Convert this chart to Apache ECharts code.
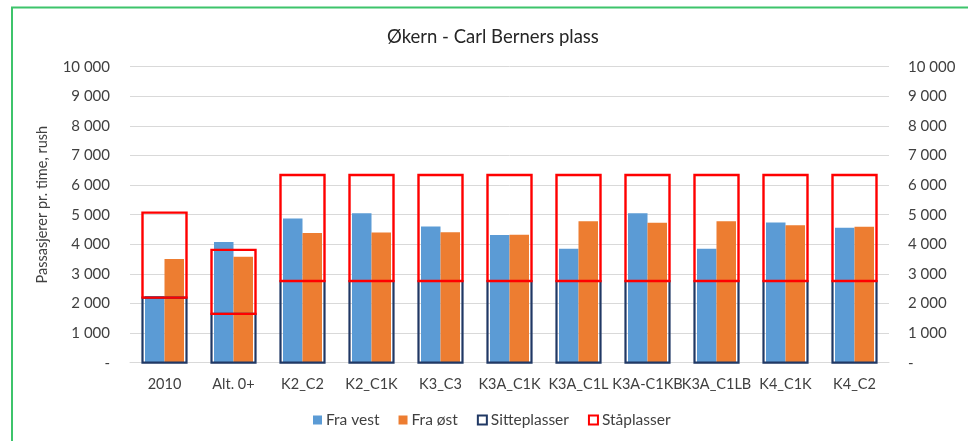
<!DOCTYPE html>
<html>
<head>
<meta charset="utf-8">
<script src="https://cdn.jsdelivr.net/npm/echarts@6/dist/echarts.min.js"></script>
<style>
  html, body { margin: 0; padding: 0; background: #fff; }
  #chart { width: 968px; height: 441px; }
</style>
</head>
<body>
<div id="chart"></div>
<script>
// Scenarios along the x axis
const categories = ['2010', 'Alt. 0+', 'K2_C2', 'K2_C1K', 'K3_C3', 'K3A_C1K', 'K3A_C1L', 'K3A-C1KB', 'K3A_C1LB', 'K4_C1K', 'K4_C2'];
// Passengers per hour in rush, by direction
const fraVest = [2250, 4080, 4870, 5050, 4600, 4310, 3850, 5050, 3850, 4740, 4560];
const fraOst  = [3500, 3580, 4380, 4400, 4410, 4320, 4780, 4730, 4780, 4640, 4590];
// Capacity: seats, and total capacity including standing room
const sitteplasser = [2200, 1650, 2760, 2760, 2760, 2760, 2760, 2760, 2760, 2760, 2760];
const totalKapasitet = [5070, 3810, 6340, 6340, 6340, 6340, 6340, 6340, 6340, 6340, 6340];

const fontFamily = 'Lato, "Open Sans", sans-serif';
const textColor = '#404040';
const BOX_WIDTH = 44;

function fmt(v) {
  if (v === 0) return '-';
  return String(v).replace(/\B(?=(\d{3})+(?!\d))/g, ' ');
}

// Hollow box from a lower to an upper value, centred on a category
function boxRenderer(stroke, lineWidth) {
  return function (params, api) {
    const lo = api.coord([api.value(0), api.value(1)]);
    const hi = api.coord([api.value(0), api.value(2)]);
    return {
      type: 'rect',
      shape: { x: lo[0] - BOX_WIDTH / 2, y: hi[1], width: BOX_WIDTH, height: lo[1] - hi[1] },
      style: { fill: 'none', stroke: stroke, lineWidth: lineWidth }
    };
  };
}

const seatBoxes = categories.map((c, i) => [i, 0, sitteplasser[i]]);
const standingBoxes = categories.map((c, i) => [i, sitteplasser[i], totalKapasitet[i]]);

const chart = echarts.init(document.getElementById('chart'), null, { renderer: 'canvas' });

const yAxisCommon = {
  type: 'value', min: 0, max: 10000, interval: 1000,
  axisLine: { show: false }, axisTick: { show: false },
  axisLabel: { formatter: fmt, color: textColor, fontSize: 15, fontFamily }
};

chart.setOption({
  animation: false,
  backgroundColor: '#fff',
  graphic: [{
    type: 'polyline',
    shape: { points: [[12, 441], [12, 7.5], [968, 7.5]] },
    style: { stroke: '#3dc46b', lineWidth: 2, fill: null }
  }],
  title: {
    text: 'Økern - Carl Berners plass',
    left: 382, top: 23,
    textStyle: { fontFamily, fontSize: 18.5, fontWeight: 'normal', color: '#262626' }
  },
  legend: {
    bottom: 8, left: 308,
    itemWidth: 9, itemHeight: 9, itemGap: 19,
    icon: 'rect',
    textStyle: { fontFamily, fontSize: 15.5, color: textColor, padding: [0, 0, 0, -1] },
    data: [
      { name: 'Fra vest', itemStyle: { color: '#5b9bd5' } },
      { name: 'Fra øst', itemStyle: { color: '#ed7d31' } },
      { name: 'Sitteplasser', itemStyle: { color: '#fff', borderColor: '#203864', borderWidth: 2 } },
      { name: 'Ståplasser', itemStyle: { color: '#fff', borderColor: '#ff0000', borderWidth: 2 } }
    ]
  },
  grid: { left: 130, right: 79, top: 66.7, bottom: 78.3, containLabel: false },
  xAxis: {
    type: 'category', data: categories,
    axisLine: { lineStyle: { color: '#d9d9d9', width: 1 } },
    axisTick: { show: false },
    axisLabel: { color: textColor, fontSize: 14.5, fontFamily, margin: 14, interval: 0 }
  },
  yAxis: [
    Object.assign({}, yAxisCommon, {
      position: 'left',
      name: 'Passasjerer pr. time, rush',
      nameLocation: 'middle', nameRotate: 90, nameGap: 80,
      nameTextStyle: { fontFamily, fontSize: 14.5, color: textColor, padding: [0, 0, 0, 20] },
      splitLine: { lineStyle: { color: '#d9d9d9', width: 1 } },
      axisLabel: Object.assign({}, yAxisCommon.axisLabel, { margin: 20 })
    }),
    Object.assign({}, yAxisCommon, {
      position: 'right',
      splitLine: { show: false },
      axisLabel: Object.assign({}, yAxisCommon.axisLabel, { margin: 19 })
    })
  ],
  series: [
    {
      name: 'Fra vest', type: 'bar', yAxisIndex: 0,
      data: fraVest, barWidth: 19.5, barGap: '0%',
      itemStyle: { color: '#5b9bd5' }
    },
    {
      name: 'Fra øst', type: 'bar', yAxisIndex: 0,
      data: fraOst, barWidth: 19.5, barGap: '0%',
      itemStyle: { color: '#ed7d31' }
    },
    {
      name: 'Sitteplasser', type: 'custom', yAxisIndex: 0,
      data: seatBoxes, encode: { x: 0, y: [1, 2] },
      renderItem: boxRenderer('#203864', 2.2),
      itemStyle: { color: '#203864' },
      z: 3
    },
    {
      name: 'Ståplasser', type: 'custom', yAxisIndex: 0,
      data: standingBoxes, encode: { x: 0, y: [1, 2] },
      renderItem: boxRenderer('#ff0000', 2.4),
      itemStyle: { color: '#ff0000' },
      z: 4
    }
  ]
});
</script>
</body>
</html>
